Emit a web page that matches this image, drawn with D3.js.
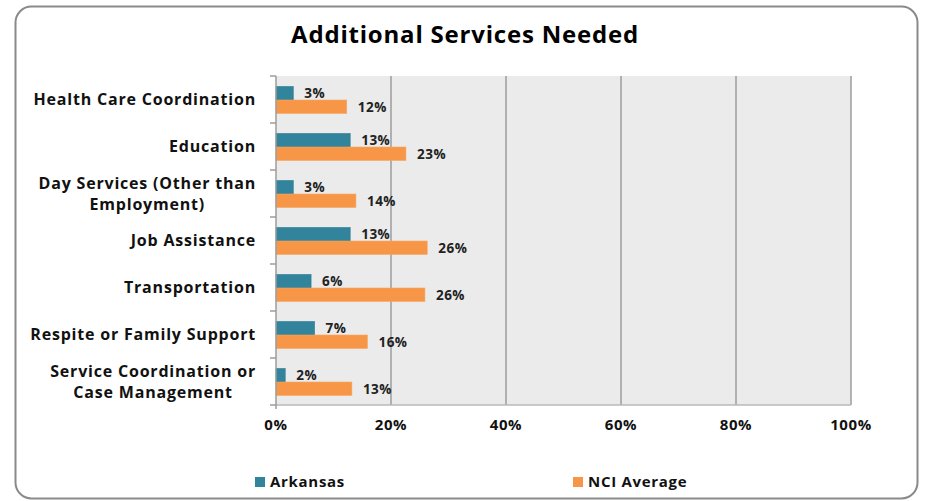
<!DOCTYPE html>
<html>
<head>
<meta charset="utf-8">
<script src="https://cdn.jsdelivr.net/npm/d3@7"></script>
<style>
  html, body { margin: 0; padding: 0; background: #fff; }
  svg { display: block; font-family: "Open Sans", sans-serif; }
</style>
</head>
<body>
<svg id="chart" width="926" height="501"></svg>
<script>
const categories = [
  ["Health Care Coordination"],
  ["Education"],
  ["Day Services (Other than", "Employment)"],
  ["Job Assistance"],
  ["Transportation"],
  ["Respite or Family Support"],
  ["Service Coordination or", "Case Management"]
];
const seriesNames = ["Arkansas", "NCI Average"];
const arkansas = [3.0, 12.9, 3.0, 12.9, 6.1, 6.7, 1.6];
const nciAverage = [12.3, 22.6, 13.9, 26.3, 25.9, 15.9, 13.2];
const arkansasLabels = ["3%", "13%", "3%", "13%", "6%", "7%", "2%"];
const nciLabels = ["12%", "23%", "14%", "26%", "26%", "16%", "13%"];
const xTicks = [0, 20, 40, 60, 80, 100];
const colors = ["#31849B", "#F79646"];

const svg = d3.select("#chart");
const pLeft = 276, pRight = 851, pTop = 76, pBottom = 405;

// outer border
svg.append("rect")
  .attr("x", 15.5).attr("y", 6.5).attr("width", 902).attr("height", 492)
  .attr("rx", 16).attr("ry", 16)
  .attr("fill", "#fff").attr("stroke", "#8a8a8a").attr("stroke-width", 2);

// title
svg.append("text").attr("x", 465).attr("y", 36.5)
  .attr("text-anchor", "middle").attr("dominant-baseline", "middle")
  .attr("font-weight", 700).attr("font-size", 24).attr("letter-spacing", 0.8)
  .attr("fill", "#000").text("Additional Services Needed");

const x = d3.scaleLinear().domain([0, 100]).range([pLeft, pRight]);
const keys = categories.map((c, i) => i);
const y = d3.scaleBand().domain(keys).range([pTop, pBottom]).padding(0);
const yInner = d3.scaleBand().domain([0, 1]).range([10.5, 37.5]).padding(0);

// plot background
svg.append("rect").attr("x", pLeft).attr("y", pTop)
  .attr("width", pRight - pLeft).attr("height", pBottom - pTop).attr("fill", "#EBEBEB");

// gridlines
svg.append("g").selectAll("line").data(xTicks.filter(d => d > 0)).join("line")
  .attr("x1", d => x(d)).attr("x2", d => x(d))
  .attr("y1", pTop).attr("y2", pBottom)
  .attr("stroke", "#9d9d9d").attr("stroke-width", 1.5);

// bottom line of plot
svg.append("line").attr("x1", pLeft).attr("x2", pRight).attr("y1", pBottom).attr("y2", pBottom)
  .attr("stroke", "#b8b8b8").attr("stroke-width", 1.5);

// bars
const data = keys.map(i => ({ i, vals: [arkansas[i], nciAverage[i]], labels: [arkansasLabels[i], nciLabels[i]] }));
const groups = svg.append("g").selectAll("g").data(data).join("g")
  .attr("transform", d => `translate(0,${y(d.i)})`);

groups.selectAll("rect").data(d => d.vals.map((v, s) => ({ v, s }))).join("rect")
  .attr("x", x(0)).attr("y", d => yInner(d.s))
  .attr("width", d => x(d.v) - x(0)).attr("height", yInner.bandwidth())
  .attr("fill", d => colors[d.s])
  .attr("stroke", d => d.s === 0 ? "#2c7a90" : "#f5a865").attr("stroke-width", 0.6);

groups.selectAll("text.val").data(d => d.vals.map((v, s) => ({ v, s, label: d.labels[s] }))).join("text")
  .attr("class", "val")
  .attr("x", d => x(d.v) + 11).attr("y", d => yInner(d.s) + yInner.bandwidth() / 2 + 1.5)
  .attr("dominant-baseline", "middle").attr("font-size", 13.5).attr("font-weight", 700)
  .attr("letter-spacing", 0.5)
  .attr("fill", "#222").text(d => d.label);

// left axis
const yAxis = svg.append("g");
yAxis.append("line").attr("x1", pLeft).attr("x2", pLeft).attr("y1", pTop).attr("y2", pBottom + 4)
  .attr("stroke", "#9d9d9d").attr("stroke-width", 1.5);
yAxis.selectAll("line.tick").data(keys.concat([keys.length])).join("line").attr("class", "tick")
  .attr("x1", pLeft - 6).attr("x2", pLeft)
  .attr("y1", d => d < keys.length ? y(d) : pBottom).attr("y2", d => d < keys.length ? y(d) : pBottom)
  .attr("stroke", "#9d9d9d").attr("stroke-width", 1.5);

// category labels (multi-line centered block, right aligned at 256)
yAxis.selectAll("text.cat").data(keys).join("text").attr("class", "cat")
  .attr("font-size", 16).attr("font-weight", 700).attr("letter-spacing", 0.8).attr("fill", "#111")
  .each(function (i) {
    const lines = categories[i];
    const t = d3.select(this);
    const cy = y(i) + y.bandwidth() / 2 + 1.5;
    const lh = 21;
    lines.forEach((ln, k) => {
      t.append("tspan").attr("y", cy + (k - (lines.length - 1) / 2) * lh)
        .attr("dominant-baseline", "middle").text(ln);
    });
    const widths = [];
    t.selectAll("tspan").each(function () { widths.push(this.getComputedTextLength()); });
    const maxW = d3.max(widths);
    const cx = 256 - maxW / 2;
    t.selectAll("tspan").attr("x", cx).attr("text-anchor", "middle");
  });

// x tick labels
svg.append("g").selectAll("text").data(xTicks).join("text")
  .attr("x", d => x(d)).attr("y", 426)
  .attr("text-anchor", "middle").attr("dominant-baseline", "middle")
  .attr("font-size", 15).attr("font-weight", 700).attr("letter-spacing", 0.6).attr("fill", "#111")
  .text(d => d + "%");

// legend
const legendX = [255, 573];
const lg = svg.append("g").selectAll("g").data(seriesNames).join("g")
  .attr("transform", (d, i) => `translate(${legendX[i]},477)`);
lg.append("rect").attr("width", 10).attr("height", 10).attr("fill", (d, i) => colors[i]);
lg.append("text").attr("x", 15).attr("y", 5.5).attr("dominant-baseline", "middle")
  .attr("font-size", 15).attr("font-weight", 700).attr("letter-spacing", 0.7).attr("fill", "#111").text(d => d);
</script>
</body>
</html>
